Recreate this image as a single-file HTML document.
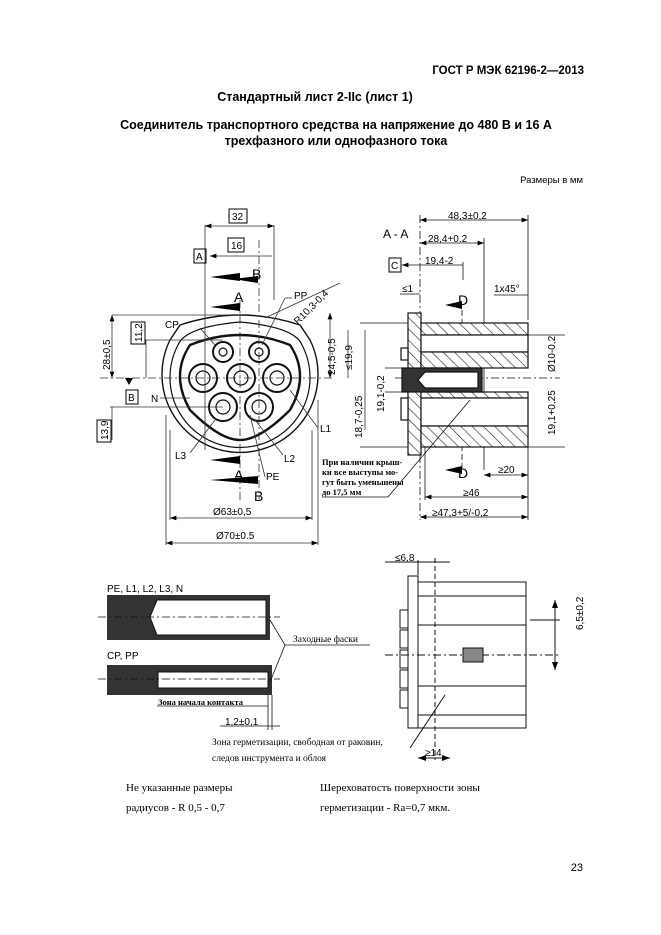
<!DOCTYPE html>
<html><head><meta charset="utf-8"><style>
html,body{margin:0;padding:0;background:#fff;}
svg{display:block;}
.t{font-family:"Liberation Sans","Noto Sans CJK SC",sans-serif;}
.s{font-family:"Liberation Serif","Noto Serif CJK SC",serif;}
.d{font-family:"Liberation Sans",sans-serif;font-size:10px;}
</style></head><body>
<svg width="661" height="935" viewBox="0 0 661 935" xmlns="http://www.w3.org/2000/svg">
<defs>
<pattern id="h" width="8" height="8" patternUnits="userSpaceOnUse" patternTransform="rotate(-45)">
<rect width="8" height="8" fill="#fff"/><line x1="0" y1="0" x2="0" y2="8" stroke="#222" stroke-width="1.2"/></pattern>
<marker id="a" markerWidth="8" markerHeight="6" refX="8" refY="3" orient="auto-start-reverse"><path d="M0,0 L8,3 L0,6z" fill="#000"/></marker>
</defs>
<g class="t" fill="#000">
<text x="584" y="74" font-size="11.5" font-weight="bold" text-anchor="end">ГОСТ Р МЭК 62196-2—2013</text>
<text x="315" y="101" font-size="12.5" font-weight="bold" text-anchor="middle">Стандартный лист 2-IIc (лист 1)</text>
<text x="336" y="129" font-size="12.5" font-weight="bold" text-anchor="middle">Соединитель транспортного средства на напряжение до 480 В и 16 А</text>
<text x="336" y="145" font-size="12.5" font-weight="bold" text-anchor="middle">трехфазного или однофазного  тока</text>
<text x="583" y="183" font-size="9.5" text-anchor="end">Размеры в мм</text>
<text x="583" y="871" font-size="11" text-anchor="end">23</text>
</g>

<!-- FRONT VIEW -->
<g fill="none" stroke="#111" stroke-width="1.2">
<path d="M170,340 A78,78 0 1,0 310,340 L300,325 Q240,305 180,325 Z" stroke-width="1.4"/>
<path d="M178,345 A70,70 0 1,0 302,345 Q295,327 240,322 Q185,327 178,345Z"/>
<path d="M190,345 Q240,325 290,345 Q310,375 290,410 Q260,440 240,440 Q220,440 190,410 Q170,375 190,345Z" stroke-width="2.4"/>
<circle cx="223" cy="352" r="10" stroke-width="2"/><circle cx="223" cy="352" r="4"/>
<circle cx="259" cy="352" r="10" stroke-width="2"/><circle cx="259" cy="352" r="4"/>
<circle cx="203" cy="378" r="14" stroke-width="2"/><circle cx="203" cy="378" r="7"/>
<circle cx="241" cy="378" r="14" stroke-width="2"/><circle cx="241" cy="378" r="7"/>
<circle cx="277" cy="378" r="14" stroke-width="2"/><circle cx="277" cy="378" r="7"/>
<circle cx="223" cy="407" r="14" stroke-width="2"/><circle cx="223" cy="407" r="7"/>
<circle cx="259" cy="407" r="14" stroke-width="2"/><circle cx="259" cy="407" r="7"/>
</g>
<g stroke="#333" stroke-width="0.8" fill="none">
<line x1="205" y1="225" x2="205" y2="450"/><line x1="240" y1="300" x2="240" y2="500" stroke-dasharray="8,3,2,3"/>
<line x1="259" y1="240" x2="259" y2="500" stroke-dasharray="8,3,2,3"/><line x1="274" y1="225" x2="274" y2="300"/>
<line x1="205" y1="226" x2="274" y2="226" marker-start="url(#a)" marker-end="url(#a)"/>
<line x1="210" y1="256" x2="272" y2="256" marker-start="url(#a)"/>
<line x1="100" y1="378" x2="335" y2="378" stroke-dasharray="8,3,2,3"/>
<line x1="112" y1="315" x2="240" y2="315"/><line x1="112" y1="315" x2="112" y2="378" marker-start="url(#a)" marker-end="url(#a)"/>
<line x1="145" y1="340" x2="223" y2="340"/><line x1="146" y1="340" x2="146" y2="378"/>
<line x1="110" y1="407" x2="223" y2="407"/><line x1="112" y1="407" x2="112" y2="440"/>
<line x1="166" y1="415" x2="166" y2="545"/><line x1="318" y1="400" x2="318" y2="545"/>
<line x1="170" y1="430" x2="170" y2="520"/><line x1="312" y1="430" x2="312" y2="520"/>
<line x1="170" y1="518" x2="312" y2="518" marker-start="url(#a)" marker-end="url(#a)"/>
<line x1="166" y1="543" x2="318" y2="543" marker-start="url(#a)" marker-end="url(#a)"/>
<line x1="330" y1="313" x2="330" y2="378" marker-start="url(#a)" marker-end="url(#a)"/>
<line x1="348" y1="330" x2="348" y2="378"/><line x1="365" y1="330" x2="365" y2="430"/>
<line x1="265" y1="318" x2="340" y2="283"/>
<line x1="262" y1="345" x2="285" y2="298"/><line x1="285" y1="298" x2="292" y2="298"/>
<line x1="200" y1="328" x2="215" y2="345"/><line x1="160" y1="398" x2="190" y2="398"/>
<line x1="290" y1="390" x2="318" y2="428"/><line x1="190" y1="453" x2="215" y2="420"/>
<line x1="255" y1="420" x2="283" y2="455"/><line x1="250" y1="415" x2="265" y2="477"/>
</g>
<g fill="#000">
<path d="M210,277 L240,273 L240,281z"/><path d="M210,307 L240,303 L240,311z"/>
<path d="M210,460 L240,456 L240,464z"/><path d="M210,480 L258,476 L258,484z"/>
<path d="M233,279 L258,276 L258,283z"/>
<path d="M125,378 L133,378 L129,385z"/>
</g>
<g class="d">
<rect x="229" y="209" width="18" height="14" fill="none" stroke="#000"/><text x="232" y="220">32</text>
<rect x="228" y="238" width="16" height="14" fill="none" stroke="#000"/><text x="231" y="249">16</text>
<rect x="194" y="249" width="12" height="14" fill="none" stroke="#000"/><text x="196" y="260">A</text>
<text x="252" y="279" font-size="14">B</text><text x="234" y="302" font-size="14">A</text>
<text x="294" y="299">PP</text><text x="165" y="328">CP</text><text x="151" y="402">N</text>
<text x="320" y="432">L1</text><text x="175" y="459">L3</text><text x="284" y="462">L2</text><text x="266" y="480">PE</text>
<text x="234" y="480" font-size="14">A</text><text x="254" y="501" font-size="14">B</text>
<text x="213" y="515">Ø63±0,5</text><text x="216" y="539">Ø70±0.5</text>
<text x="295" y="322" transform="rotate(-45 300 320)">R10,3-0,4</text>
<rect x="126" y="390" width="12" height="14" fill="none" stroke="#000"/><text x="128" y="401">B</text>
<g transform="rotate(-90)">
<text x="-370" y="110">28±0,5</text>
<rect x="-344" y="131" width="22" height="14" fill="none" stroke="#000"/><text x="-342" y="142">11,2</text>
<rect x="-442" y="97" width="22" height="14" fill="none" stroke="#000"/><text x="-440" y="108">13,9</text>
<text x="-375" y="335">24,5-0,5</text><text x="-370" y="352">≤19,9</text>
<text x="-438" y="362">18,7-0,25</text><text x="-412" y="384">19,1-0,2</text>
<text x="-372" y="555">Ø10-0,2</text><text x="-435" y="555">19,1+0,25</text>
<text x="-630" y="583">6,5±0,2</text>
</g>
</g>

<!-- SECTION A-A -->
<g class="d"><text x="383" y="238" font-size="12">A - A</text>
<text x="448" y="219">48,3±0,2</text><text x="428" y="242">28,4+0.2</text><text x="425" y="264">19,4-2</text>
<rect x="389" y="258" width="12" height="14" fill="none" stroke="#000"/><text x="391" y="269">C</text>
<text x="402" y="292">≤1</text><text x="494" y="292">1x45°</text>
<text x="458" y="305" font-size="14">D</text><text x="458" y="478" font-size="14">D</text>
<text x="498" y="473">≥20</text><text x="463" y="496">≥46</text><text x="432" y="516">≥47,3+5/-0,2</text>
</g>
<g stroke="#111" fill="none" stroke-width="0.8">
<line x1="420" y1="215" x2="420" y2="520" stroke-dasharray="8,3,2,3"/>
<line x1="528" y1="215" x2="528" y2="320"/><line x1="484" y1="238" x2="484" y2="470"/>
<line x1="463" y1="262" x2="463" y2="280"/>
<line x1="420" y1="220" x2="528" y2="220" marker-start="url(#a)" marker-end="url(#a)"/>
<line x1="420" y1="243" x2="484" y2="243" marker-start="url(#a)" marker-end="url(#a)"/>
<line x1="402" y1="265" x2="463" y2="265" marker-start="url(#a)"/>
<line x1="400" y1="294" x2="420" y2="294"/><line x1="494" y1="295" x2="528" y2="295"/>
<line x1="484" y1="475" x2="528" y2="475" marker-start="url(#a)" marker-end="url(#a)"/>
<line x1="425" y1="497" x2="528" y2="497" marker-start="url(#a)" marker-end="url(#a)"/>
<line x1="420" y1="517" x2="528" y2="517" marker-start="url(#a)" marker-end="url(#a)"/>
<line x1="425" y1="447" x2="425" y2="500"/><line x1="528" y1="447" x2="528" y2="520"/>
<line x1="462" y1="310" x2="462" y2="470" stroke-dasharray="6,3"/>
<line x1="395" y1="378" x2="560" y2="378" stroke-dasharray="8,3,2,3"/>
<line x1="360" y1="323" x2="420" y2="323"/><line x1="360" y1="447" x2="420" y2="447"/>
<line x1="528" y1="335" x2="565" y2="335"/><line x1="528" y1="447" x2="565" y2="447"/>
<line x1="385" y1="368" x2="410" y2="368"/><line x1="385" y1="392" x2="410" y2="392"/>
</g>
<g stroke="#111" stroke-width="1.2">
<rect x="408" y="313" width="13" height="142" fill="url(#h)"/>
<rect x="421" y="323" width="107" height="12" fill="url(#h)"/>
<rect x="421" y="335" width="107" height="17" fill="#fff"/>
<rect x="421" y="352" width="107" height="16" fill="url(#h)"/>
<rect x="421" y="392" width="107" height="6" fill="url(#h)"/>
<rect x="421" y="398" width="107" height="28" fill="#fff"/>
<rect x="421" y="426" width="107" height="21" fill="url(#h)"/>
<rect x="401" y="348" width="7" height="12" fill="#fff"/><rect x="401" y="398" width="7" height="22" fill="#fff"/>
<rect x="402" y="368" width="80" height="24" fill="#333"/>
<path d="M425,372 L478,372 L478,388 L425,388 L418,380Z" fill="#fff"/>
</g>
<path d="M445,305 L462,301 L462,309z M445,470 L462,466 L462,474z M402,265 L390,265" fill="#000"/>
<g class="s" font-size="8.5" font-weight="bold">
<text x="322" y="465">При наличии крыш-</text><text x="322" y="475">ки все выступы мо-</text>
<text x="322" y="485">гут быть уменьшены</text><text x="322" y="495">до 17,5 мм</text></g>
<path d="M322,497 L388,497 L470,400" stroke="#111" fill="none" stroke-width="0.8"/>

<!-- BOTTOM LEFT -->
<g class="d"><text x="107" y="592">PE, L1, L2, L3, N</text><text x="107" y="659">CP, PP</text>
<text x="225" y="725">1,2±0,1</text></g>
<rect x="107" y="595" width="163" height="45" fill="#333"/>
<path d="M157,600 L266,600 L266,635 L157,635 L150,617Z" fill="#fff" stroke="#111"/>
<rect x="107" y="665" width="165" height="30" fill="#333"/>
<rect x="158" y="672" width="110" height="16" fill="#fff" stroke="#111"/>
<g stroke="#111" fill="none" stroke-width="0.8">
<line x1="98" y1="617" x2="280" y2="617" stroke-dasharray="8,3,2,3"/>
<line x1="98" y1="679" x2="280" y2="679" stroke-dasharray="8,3,2,3"/>
<path d="M270,620 L285,645 L270,682"/><line x1="285" y1="645" x2="370" y2="645"/>
<line x1="157" y1="706" x2="268" y2="706"/><line x1="268" y1="695" x2="268" y2="730"/><line x1="272" y1="695" x2="272" y2="730"/>
<line x1="220" y1="726" x2="280" y2="726"/>
</g>
<g class="s" font-size="9.5">
<text x="293" y="642">Заходные фаски</text>
<text x="158" y="705" font-size="8.5" font-weight="bold">Зона начала контакта</text>
<text x="212" y="745" font-size="9.5">Зона герметизации, свободная от раковин,</text>
<text x="212" y="761">следов инструмента и облоя</text>
<text x="126" y="791" font-size="11">Не указанные размеры</text><text x="126" y="811" font-size="11">радиусов - R 0,5 - 0,7</text>
<text x="320" y="791" font-size="11">Шереховатость поверхности зоны</text><text x="320" y="811" font-size="11">герметизации - Ra=0,7 мкм.</text>
</g>
<!-- BOTTOM RIGHT -->
<g stroke="#111" fill="none" stroke-width="1">
<rect x="408" y="576" width="10" height="152"/>
<rect x="418" y="582" width="108" height="146"/>
<rect x="400" y="610" width="8" height="18"/><rect x="400" y="630" width="8" height="18"/><rect x="400" y="650" width="8" height="18"/><rect x="400" y="670" width="8" height="18"/><rect x="400" y="690" width="8" height="18"/>
<line x1="418" y1="596" x2="526" y2="596"/><line x1="418" y1="625" x2="526" y2="625"/>
<line x1="418" y1="686" x2="526" y2="686"/><line x1="418" y1="715" x2="526" y2="715"/>
<line x1="435" y1="558" x2="435" y2="760" stroke-dasharray="5,3"/>
<line x1="385" y1="655" x2="560" y2="655" stroke-dasharray="8,3,2,3"/>
<rect x="463" y="648" width="20" height="14" fill="#888"/>
<line x1="418" y1="560" x2="418" y2="575"/><line x1="385" y1="562" x2="450" y2="562"/>
<line x1="418" y1="758" x2="450" y2="758" marker-start="url(#a)" marker-end="url(#a)"/>
<line x1="410" y1="748" x2="445" y2="695"/>
<line x1="530" y1="620" x2="560" y2="620"/><line x1="555" y1="600" x2="555" y2="670" marker-start="url(#a)" marker-end="url(#a)"/>
</g>
<g class="d"><text x="395" y="561">≤6,8</text><text x="425" y="756">≥14</text></g>
</svg>
</body></html>
